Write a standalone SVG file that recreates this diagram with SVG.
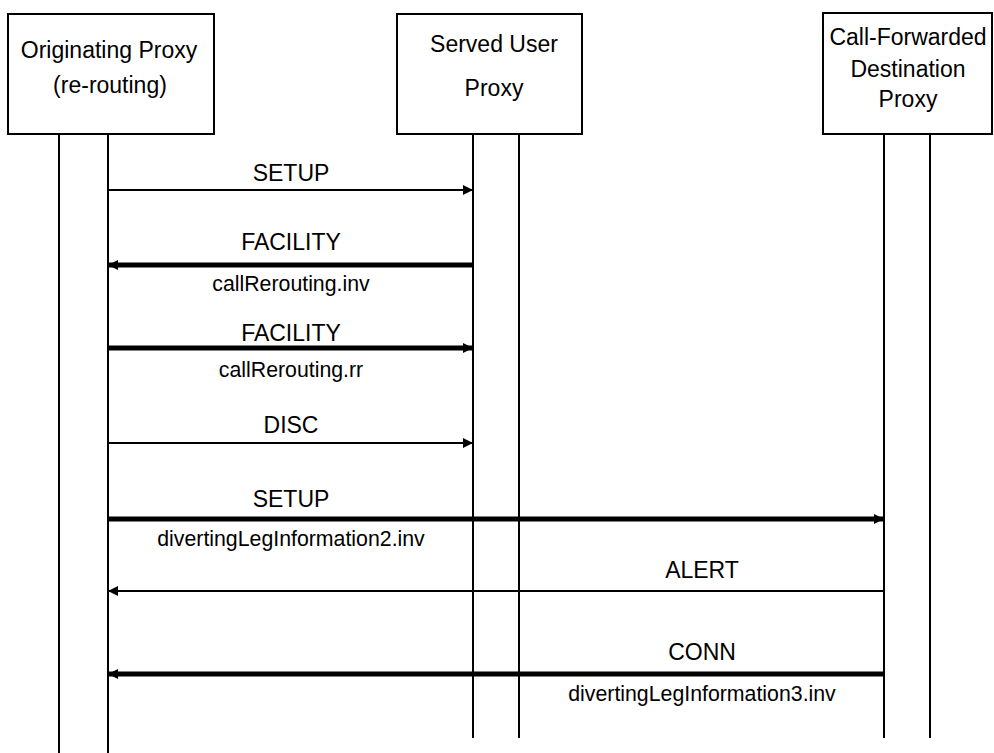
<svg xmlns="http://www.w3.org/2000/svg" width="994" height="753" viewBox="0 0 994 753">
<defs>
<style>
.box{fill:#fff;stroke:#000;stroke-width:2}
.life{stroke:#000;stroke-width:2;fill:none}
.t{font-family:"Liberation Sans",Arial,sans-serif;font-size:23px;fill:#000;text-anchor:middle}
.s{font-family:"Liberation Sans",Arial,sans-serif;font-size:21.3px;fill:#000;text-anchor:middle}
.thin{stroke:#000;stroke-width:2;fill:none}
.thick{stroke:#000;stroke-width:5;fill:none}
</style>
<marker id="ah" viewBox="0 0 10 10" refX="10" refY="5" markerUnits="userSpaceOnUse" markerWidth="11" markerHeight="10" orient="auto">
<path d="M0,0 L10,5 L0,10 z" fill="#000"/>
</marker>
</defs>
<rect width="994" height="753" fill="#fff"/>
<g id="originating">
<rect class="box" x="8" y="14" width="206" height="120"/>
<line class="life" x1="59" y1="134" x2="59" y2="753"/>
<line class="life" x1="108" y1="134" x2="108" y2="753"/>
<text class="t" x="109" y="58">Originating Proxy</text>
<text class="t" x="110" y="93">(re-routing)</text>
</g>
<g id="served">
<rect class="box" x="397" y="14" width="185" height="120"/>
<line class="life" x1="473" y1="134" x2="473" y2="738"/>
<line class="life" x1="519" y1="134" x2="519" y2="738"/>
<text class="t" x="494" y="52">Served User</text>
<text class="t" x="494" y="96">Proxy</text>
</g>
<g id="forwarded">
<rect class="box" x="823" y="13" width="169" height="121"/>
<line class="life" x1="884" y1="134" x2="884" y2="738"/>
<line class="life" x1="930" y1="134" x2="930" y2="738"/>
<text class="t" x="908" y="45">Call-Forwarded</text>
<text class="t" x="908" y="77">Destination</text>
<text class="t" x="908" y="107">Proxy</text>
</g>
<g id="connectors">
<line class="thin" x1="108" y1="190" x2="473" y2="190" marker-end="url(#ah)"/>
<text class="t" x="291" y="181">SETUP</text>
<line class="thick" x1="473" y1="265" x2="108" y2="265" marker-end="url(#ah)"/>
<text class="t" x="291" y="250">FACILITY</text>
<text class="s" x="291" y="291">callRerouting.inv</text>
<line class="thick" x1="108" y1="348" x2="473" y2="348" marker-end="url(#ah)"/>
<text class="t" x="291" y="341">FACILITY</text>
<text class="s" x="291" y="377">callRerouting.rr</text>
<line class="thin" x1="108" y1="443" x2="473" y2="443" marker-end="url(#ah)"/>
<text class="t" x="291" y="433">DISC</text>
<line class="thick" x1="108" y1="519" x2="884" y2="519" marker-end="url(#ah)"/>
<text class="t" x="291" y="507">SETUP</text>
<text class="s" x="291" y="546">divertingLegInformation2.inv</text>
<line class="thin" x1="884" y1="591" x2="108" y2="591" marker-end="url(#ah)"/>
<text class="t" x="702" y="578">ALERT</text>
<line class="thick" x1="884" y1="674" x2="108" y2="674" marker-end="url(#ah)"/>
<text class="t" x="702" y="660">CONN</text>
<text class="s" x="702" y="701">divertingLegInformation3.inv</text>
</g>
</svg>
